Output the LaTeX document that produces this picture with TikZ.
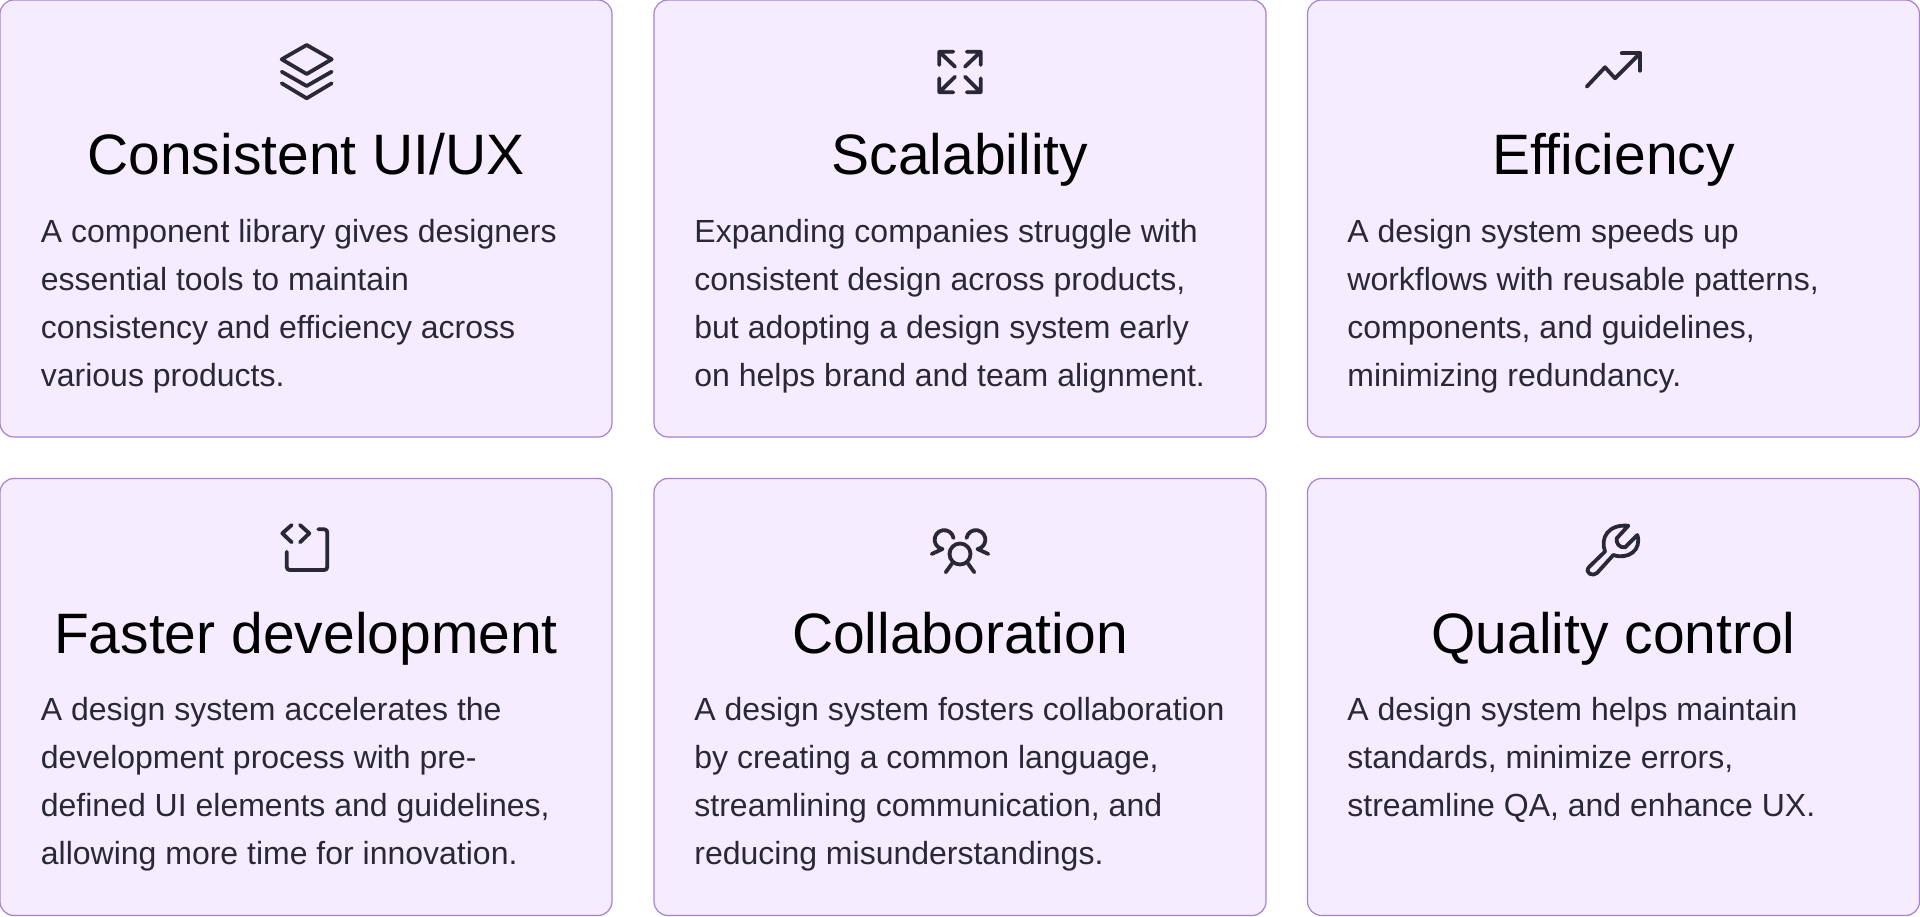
\documentclass[tikz,border=0pt]{standalone}
\usepackage{fontspec}
\setmainfont{Liberation Sans}
\definecolor{cardfill}{HTML}{F5ECFF}
\definecolor{cardline}{HTML}{A680D6}
\definecolor{bodyink}{HTML}{2A2838}
\tikzset{
  card/.style={draw=cardline,fill=cardfill,line width=0.6pt,rounded corners=7pt,minimum width=306pt,minimum height=218.5pt,inner sep=0pt},
  heading/.style={anchor=base,inner sep=0pt,text=black,font=\fontsize{28.5}{30}\selectfont},
  blurb/.style={anchor=north west,inner sep=0pt,align=left,text=bodyink,font=\fontsize{16}{24}\selectfont,execute at begin node=\strut},
  icon/.style={draw=bodyink,line width=1.9pt,line cap=round,line join=round}
}
\begin{document}
\begin{tikzpicture}[x=0.5pt,y=-0.5pt]
\useasboundingbox (0,0) rectangle (1920,916);

\node[card] (cardA) at (306,218.5) {};
\node[card] (cardB) at (960,218.5) {};
\node[card] (cardC) at (1613.5,218.5) {};
\node[card] (cardD) at (306,697) {};
\node[card] (cardE) at (960,697) {};
\node[card] (cardF) at (1613.5,697) {};

% layers
\draw[icon] (306.7,45) -- (331.7,59.3) -- (306.7,74) -- (281.7,59.3) -- cycle;
\draw[icon] (281.7,71.7) -- (306.7,86) -- (331.7,71.7);
\draw[icon] (281.7,83.3) -- (306.7,98.3) -- (331.7,83.3);
\node[heading] (titleA) at (306,174.5) {Consistent UI/UX};
\node[blurb] (textA) at (40.5,219) {A component library gives designers\\essential tools to maintain\\consistency and efficiency across\\various products.};

% four arrows
\draw[icon] (953.3,51.7) -- (939.3,51.7) -- (939.3,65) (939.3,51.7) -- (955,66.7);
\draw[icon] (966.7,51.7) -- (980.7,51.7) -- (980.7,65) (980.7,51.7) -- (965,66.7);
\draw[icon] (953.3,92.3) -- (939.3,92.3) -- (939.3,78.3) (939.3,92.3) -- (955,76.7);
\draw[icon] (966.7,92.3) -- (980.7,92.3) -- (980.7,78.3) (980.7,92.3) -- (965,76.7);
\node[heading] (titleB) at (960,174.5) {Scalability};
\node[blurb] (textB) at (694,219) {Expanding companies struggle with\\consistent design across products,\\but adopting a design system early\\on helps brand and team alignment.};

% trend line
\draw[icon] (1586.7,86.7) -- (1605,67.3) -- (1615,78.3) -- (1640,53.3);
\draw[icon] (1621.7,53.3) -- (1640,53.3) -- (1640,70.7);
\node[heading] (titleC) at (1613.5,174.5) {Efficiency};
\node[blurb] (textC) at (1347,219) {A design system speeds up\\workflows with reusable patterns,\\components, and guidelines,\\minimizing redundancy.};

% code box
\draw[icon] (291.7,525) -- (282.3,533.3) -- (291.7,542.3);
\draw[icon] (300,525) -- (309.3,533.3) -- (300,542.3);
\draw[icon,rounded corners=1.5pt] (318.3,529.3) -- (327.3,529.3) -- (327.3,570) -- (286.7,570) -- (286.7,551.7);
\node[heading] (titleD) at (306,653) {Faster development};
\node[blurb] (textD) at (40.5,697) {A design system accelerates the\\development process with pre-\\defined UI elements and guidelines,\\allowing more time for innovation.};

% three people
\draw[icon] (960,554) circle (10.5);
\draw[icon] (945.7,572.3) -- (952,563.5);
\draw[icon] (974.3,572.3) -- (968,563.5);
\draw[icon] (953.5,538) arc[start angle=-10,end angle=-260,radius=9.5] -- (931.7,554);
\draw[icon] (966.5,538) arc[start angle=190,end angle=440,radius=9.5] -- (988.3,554);
\node[heading] (titleE) at (960,653) {Collaboration};
\node[blurb] (textE) at (694,697) {A design system fosters collaboration\\by creating a common language,\\streamlining communication, and\\reducing misunderstandings.};

% wrench
\draw[icon] (1589,567) -- (1605,551.5) .. controls (1600,538) and (1608,524) .. (1628.3,525.7) -- (1616.7,538.3) .. controls (1616,543) and (1619,548) .. (1625,547.3) -- (1637.3,535) .. controls (1642,550) and (1628,560) .. (1613.3,555) -- (1597,573) .. controls (1593,577) and (1584,573) .. (1589,567) -- cycle;
\node[heading] (titleF) at (1613.5,653) {Quality control};
\node[blurb] (textF) at (1347,697) {A design system helps maintain\\standards, minimize errors,\\streamline QA, and enhance UX.};
\end{tikzpicture}
\end{document}
